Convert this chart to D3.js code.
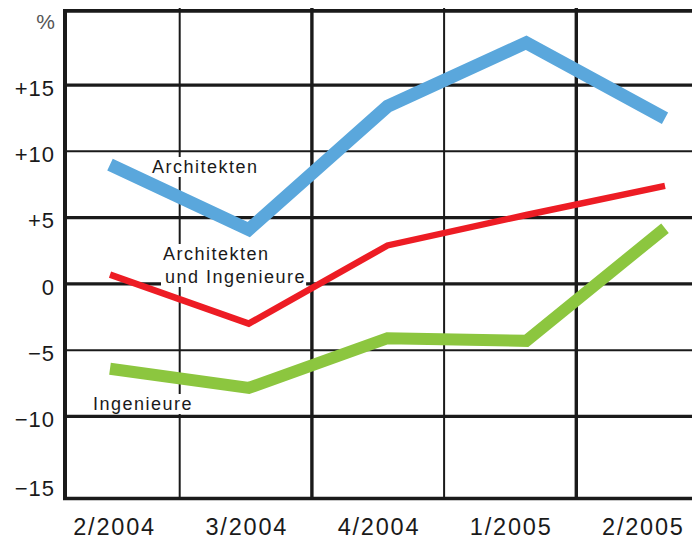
<!DOCTYPE html>
<html>
<head>
<meta charset="utf-8">
<script src="https://cdn.jsdelivr.net/npm/d3@7"></script>
<style>
  html, body { margin: 0; padding: 0; background: #fff; }
  svg { display: block; font-family: "Liberation Sans", Arial, Helvetica, sans-serif; }
</style>
</head>
<body>
<div id="chart"></div>
<script>
// Data (percent change)
const categories = ["2/2004", "3/2004", "4/2004", "1/2005", "2/2005"];
const architekten = [9.0, 4.1, 13.4, 18.2, 12.5];
const beide = [0.7, -3.0, 2.9, 5.2, 7.4];
const ingenieure = [-6.4, -7.85, -4.1, -4.3, 4.2];
const gridValues = [15, 10, 5, 0, -5, -10];
const tickValues = [15, 10, 5, 0, -5, -10, -15];
const tickLabels = ["+15", "+10", "+5", "0", "\u22125", "\u221210", "\u221215"];

const width = 692;
const height = 541;
const ink = "#1a1a1a";

const svg = d3.select('#chart')
    .append('svg')
    .attr('width', width)
    .attr('height', height);

const y = d3.scaleLinear().domain([-10, 15]).range([416.4, 85.1]);
const x = d3.scalePoint().domain(categories).range([110, 665]);
const xLab = d3.scaleBand().domain(categories).range([47.5, 708.5]);

const topY = y(20.6);
const bottomY = y(-16.2);
const left = 65;

// horizontal grid
const thin = v => v === 10 || v === -5;
svg.selectAll('.hgrid')
    .data(gridValues)
    .enter()
    .append('line')
    .attr('x1', left).attr('x2', width)
    .attr('y1', d => y(d)).attr('y2', d => y(d))
    .attr('stroke', ink)
    .attr('stroke-width', d => thin(d) ? 2 : 3.4);

// frame top / bottom
[topY, bottomY].forEach(v => {
    svg.append('line')
        .attr('x1', left - 2).attr('x2', width)
        .attr('y1', v).attr('y2', v)
        .attr('stroke', ink).attr('stroke-width', 3.6);
});

// vertical grid at band boundaries
const vgrid = categories.slice(1);
svg.selectAll('.vgrid')
    .data(vgrid)
    .enter()
    .append('line')
    .attr('x1', d => xLab(d)).attr('x2', d => xLab(d))
    .attr('y1', 8).attr('y2', bottomY)
    .attr('stroke', ink)
    .attr('stroke-width', (d, i) => i % 2 === 0 ? 2 : 3.4);

// left axis
svg.append('line')
    .attr('x1', left).attr('x2', left)
    .attr('y1', 10).attr('y2', bottomY + 1.5)
    .attr('stroke', ink).attr('stroke-width', 4);

// y tick labels
svg.selectAll('.ytick')
    .data(tickValues)
    .enter()
    .append('text')
    .attr('x', 55)
    .attr('y', d => y(d) + (d === -15 ? 6 : 3))
    .attr('dy', '0.35em')
    .attr('text-anchor', 'end')
    .attr('font-size', 22)
    .attr('letter-spacing', 1)
    .attr('fill', ink)
    .text((d, i) => tickLabels[i]);

svg.append('text')
    .attr('x', 55).attr('y', 22).attr('dy', '0.35em')
    .attr('text-anchor', 'end')
    .attr('font-size', 21)
    .attr('fill', '#555')
    .text('%');

// x tick labels
svg.selectAll('.xtick')
    .data(categories)
    .enter()
    .append('text')
    .attr('x', d => xLab(d) + xLab.bandwidth() / 2 + 1)
    .attr('y', 535)
    .attr('text-anchor', 'middle')
    .attr('font-size', 23.5)
    .attr('letter-spacing', 1.8)
    .attr('fill', ink)
    .text(d => d);

// series label backgrounds + text
const labelLayer = svg.append('g');
function addLabel(lines, x0, y0) {
    const g = labelLayer.append('g');
    const t = g.append('text')
        .attr('font-size', 18)
        .attr('letter-spacing', 1.5)
        .attr('fill', ink);
    lines.forEach((s, i) => {
        t.append('tspan').attr('x', x0 + (i > 0 ? 2 : 0)).attr('y', y0 + i * 23).text(s);
    });
    const b = t.node().getBBox();
    g.insert('rect', 'text')
        .attr('x', b.x - 2).attr('y', b.y)
        .attr('width', b.width + 2).attr('height', b.height)
        .attr('fill', '#fff');
    return g;
}

// lines
const line = d3.line()
    .x((d, i) => x(categories[i]))
    .y(d => y(d));

const series = [
    { values: architekten, color: '#5aa7dc', w: 13 },
    { values: beide, color: '#ed1c24', w: 6.5 },
    { values: ingenieure, color: '#8cc63f', w: 12 }
];

addLabel(['Architekten'], 152, 173);
addLabel(['Architekten', 'und Ingenieure'], 163, 260);
addLabel(['Ingenieure'], 93, 410);

svg.selectAll('.series')
    .data(series)
    .enter()
    .append('path')
    .attr('d', d => line(d.values))
    .attr('fill', 'none')
    .attr('stroke', d => d.color)
    .attr('stroke-width', d => d.w)
    .attr('stroke-linejoin', 'miter')
    .attr('stroke-linecap', 'butt');

// keep label text on top of the lines
labelLayer.selectAll('text').each(function() {
    svg.node().appendChild(this);
});
</script>
</body>
</html>
